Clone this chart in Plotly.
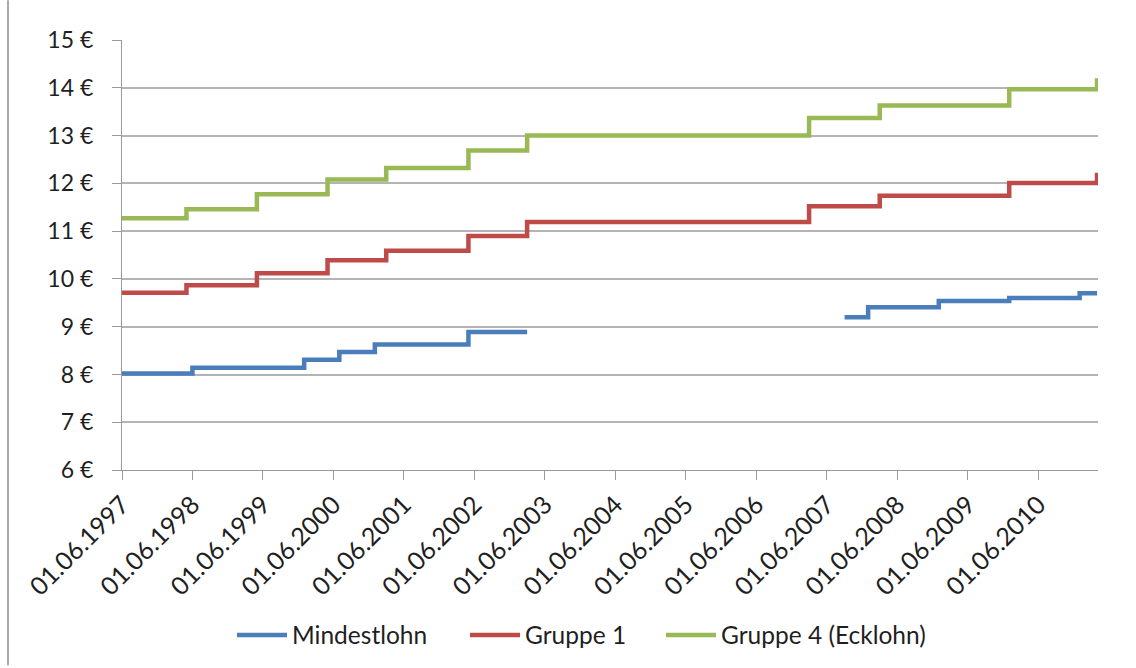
import plotly.graph_objects as go

# Stufenverläufe der Stundenlöhne (Euro), jeweils ab dem angegebenen Datum gültig
mindestlohn_dates = ["1997-06-01", "1998-06-01", "2000-01-01", "2000-07-01", "2001-01-01",
                     "2002-05-01", "2003-03-01", "2007-03-01", "2007-09-01", "2008-01-01",
                     "2009-01-01", "2010-01-01", "2011-01-01", "2011-04-01"]
mindestlohn_values = [8.02, 8.14, 8.31, 8.47, 8.63,
                      8.89, 8.89, None, 9.20, 9.41,
                      9.54, 9.60, 9.70, 9.70]

gruppe_dates = ["1997-06-01", "1998-05-01", "1999-05-01", "2000-05-01", "2001-03-01",
                "2002-05-01", "2003-03-01", "2007-03-01", "2008-03-01", "2010-01-01",
                "2011-04-01"]
gruppe1_values = [9.71, 9.87, 10.12, 10.39, 10.59, 10.90, 11.19, 11.52, 11.74, 12.01, 12.22]
gruppe4_values = [11.27, 11.46, 11.77, 12.08, 12.32, 12.69, 13.00, 13.37, 13.63, 13.97, 14.20]

y_ticks = [6, 7, 8, 9, 10, 11, 12, 13, 14, 15]

FONT = "Lato"
TEXT = "#1f1f1f"
GRID = "#b4b4b4"
AXIS = "#9a9a9a"
W, H = 1136, 668
ML, MR, MT, MB = 122, 38, 40, 196

fig = go.Figure()
series = [
    ("Mindestlohn", mindestlohn_dates, mindestlohn_values, "#4a7ebb", 168),
    ("Gruppe 1", gruppe_dates, gruppe1_values, "#be4b48", 131),
    ("Gruppe 4 (Ecklohn)", gruppe_dates, gruppe4_values, "#98b954", None),
]
for name, xs, ys, color, lw in series:
    fig.add_trace(go.Scatter(
        x=xs, y=ys, name=name, mode="lines",
        line=dict(color=color, width=4.5, shape="hv"),
        connectgaps=False,
        legendwidth=lw,
    ))

fig.update_xaxes(
    type="date",
    range=["1997-06-01", "2011-04-06"],
    tick0="1997-06-01", dtick="M12",
    tickformat="%d.%m.%Y",
    tickangle=-45,
    ticks="outside", ticklen=9, tickcolor=AXIS, tickwidth=1.3,
    showline=True, linecolor=AXIS, linewidth=1.3,
    showgrid=False, zeroline=False,
    tickfont=dict(family=FONT, size=25, color=TEXT),
)
fig.update_yaxes(
    range=[6, 15],
    tickvals=y_ticks,
    ticktext=[f"{v} €" for v in y_ticks],
    ticks="outside", ticklen=9, tickcolor=AXIS, tickwidth=1.3,
    ticklabelstandoff=14,
    showline=True, linecolor=AXIS, linewidth=1.3,
    showgrid=True, gridcolor=GRID, gridwidth=1.5,
    zeroline=False,
    tickfont=dict(family=FONT, size=23, color=TEXT),
)

pw = W - ML - MR
fig.update_layout(
    width=W, height=H,
    margin=dict(l=ML, r=MR, t=MT, b=MB, pad=0),
    paper_bgcolor="white", plot_bgcolor="white",
    font=dict(family=FONT, size=24, color=TEXT),
    showlegend=True,
    legend=dict(
        orientation="h",
        xref="container", x=232 / W, xanchor="left",
        yref="container", y=1 - 635 / H, yanchor="middle",
        font=dict(family=FONT, size=24.5, color=TEXT),
        itemwidth=50, tracegroupgap=0,
    ),
    shapes=[dict(
        type="line", xref="paper", yref="paper",
        x0=(8 - ML) / pw, x1=(8 - ML) / pw,
        y0=-MB / (H - MT - MB), y1=1 + MT / (H - MT - MB),
        line=dict(color="#8c8c8c", width=1.5),
    )],
)

fig.write_html("out.html")
